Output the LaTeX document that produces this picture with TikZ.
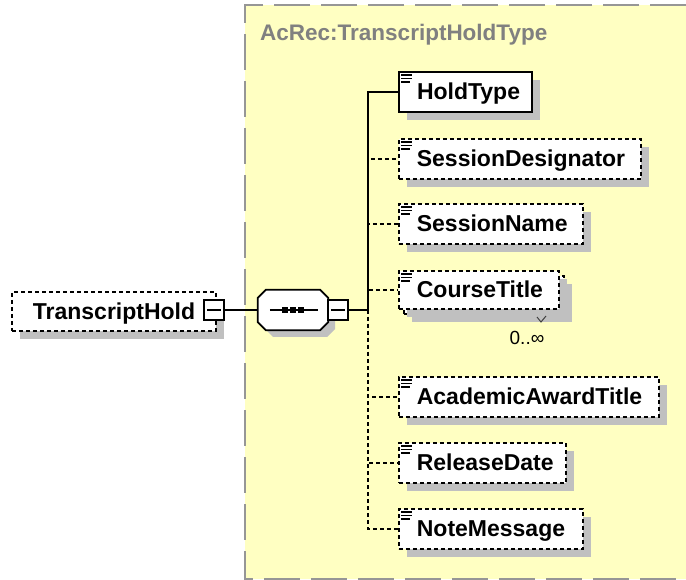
\documentclass[tikz,border=0pt]{standalone}
\usepackage{fontspec}
\setmainfont{Liberation Sans}
\usetikzlibrary{shadows}
\definecolor{bgyellow}{RGB}{255,255,194}
\definecolor{shadowgray}{RGB}{192,192,192}
\definecolor{titlegray}{RGB}{128,128,128}
\definecolor{bordergray}{RGB}{150,150,150}
\begin{document}
\begin{tikzpicture}[x=1pt,y=-1pt,
  elemshadow/.style={drop shadow={shadow xshift=8pt, shadow yshift=-8pt, opacity=1, fill=shadowgray}},
  elem/.style={draw, fill=white, line width=1.7pt, dash pattern=on 4pt off 3pt,
    inner xsep=18pt, inner ysep=0pt, minimum height=40pt, text height=16pt, text depth=0pt,
    align=left, anchor=north west, font=\bfseries\fontsize{23}{25}\selectfont, elemshadow},
  mandatory/.style={elem, solid, line width=2pt},
  minusbox/.style={draw, solid, fill=white, line width=1.5pt, minimum size=20pt, inner sep=0pt},
  conn/.style={line width=1.8pt},
  optconn/.style={line width=1.8pt, dash pattern=on 4pt off 3pt},
  icon/.style={line width=1.3pt},
  titletext/.style={font=\bfseries\fontsize{22.5}{24}\selectfont, text=titlegray, inner sep=0pt},
  multtext/.style={font=\fontsize{19}{21}\selectfont, inner sep=0pt}
]
\useasboundingbox (0,0) rectangle (686,580);
\fill[white] (0,0) rectangle (686,580);
% complex type box
\fill[bgyellow] (245,5) rectangle (686,579);
\draw[bordergray, line width=2pt, dash pattern=on 36pt off 11pt] (686,5) -- (245,5) -- (245,579) -- (686,579);
\node[titletext, anchor=base west] (title) at (260,41) {AcRec:TranscriptHoldType};

% root element
\node[elem, inner xsep=21pt, minimum height=39pt, text width=162pt] (root) at (11,291) {TranscriptHold};
\node[minusbox] (m1) at (214,310) {};
\draw[line width=1.5pt] ([xshift=4pt]m1.west) -- ([xshift=-4pt]m1.east);

% sequence compositor
\fill[shadowgray] (273,297) -- (327,297) -- (335,305) -- (335,329) -- (327,337) -- (273,337) -- (265,329) -- (265,305) -- cycle;
\node[minimum width=70pt, minimum height=40pt, inner sep=0pt] (seq) at (293,310) {};
\draw[fill=white, line width=1.7pt] ([xshift=8pt]seq.north west) -- ([xshift=-8pt]seq.north east) -- ([yshift=-8pt]seq.north east)
  -- ([yshift=8pt]seq.south east) -- ([xshift=-8pt]seq.south east) -- ([xshift=8pt]seq.south west)
  -- ([yshift=8pt]seq.south west) -- ([yshift=-8pt]seq.north west) -- cycle;
\draw[line width=1.5pt] ([xshift=12pt]seq.west) -- ([xshift=-10pt]seq.east);
\foreach \dx in {-8,0,8} \fill ([xshift=\dx pt]seq.center) ++(-3,-3) rectangle ++(6,6);
\node[minusbox] (m2) at (338,310) {};
\draw[line width=1.5pt] ([xshift=4pt]m2.west) -- ([xshift=-4pt]m2.east);
\coordinate (bus) at (368,310);

% child elements
\node[mandatory, text width=97pt] (holdtype) at (398,71) {HoldType};
\node[elem, text width=206pt] (sessdes) at (398,138) {SessionDesignator};
\node[elem, text width=148pt] (sessname) at (398,203) {SessionName};
\node[elem, minimum width=160pt, minimum height=38pt] (ctback) at (403,275) {};
\node[elem, text width=124pt, minimum height=38pt, drop shadow={opacity=0}] (coursetitle) at (398,270) {CourseTitle};
\node[elem, text width=224pt] (acad) at (398,376) {AcademicAwardTitle};
\node[elem, text width=131pt] (reldate) at (398,442) {ReleaseDate};
\node[elem, text width=148pt] (notemsg) at (398,508) {NoteMessage};
\draw[line width=1pt, black!75] (537,317) -- (541,322) -- (546,316);
\node[multtext] (ctmult) at (527,338) {0..∞};

% icons
\foreach \n in {holdtype,sessdes,sessname,coursetitle,acad,reldate,notemsg} {
  \draw[icon] ([xshift=3pt,yshift=-4pt]\n.north west) -- ++(11,0);
  \draw[icon] ([xshift=3pt,yshift=-7.5pt]\n.north west) -- ++(11,0);
  \draw[icon] ([xshift=3pt,yshift=-11pt]\n.north west) -- ++(9,0);
}

% connectors
\draw[conn] (m1.east) -- (seq.west);
\draw[conn] (m2.east) -- (bus);
\draw[optconn] (bus) |- (sessdes.west);
\draw[optconn] (bus) |- (sessname.west);
\draw[conn] (bus) |- (holdtype.west);
\draw[optconn] (bus) |- (coursetitle.west);
\draw[optconn] (bus) |- (acad.west);
\draw[optconn] (bus) |- (reldate.west);
\draw[optconn] (bus) |- (notemsg.west);
\end{tikzpicture}
\end{document}
